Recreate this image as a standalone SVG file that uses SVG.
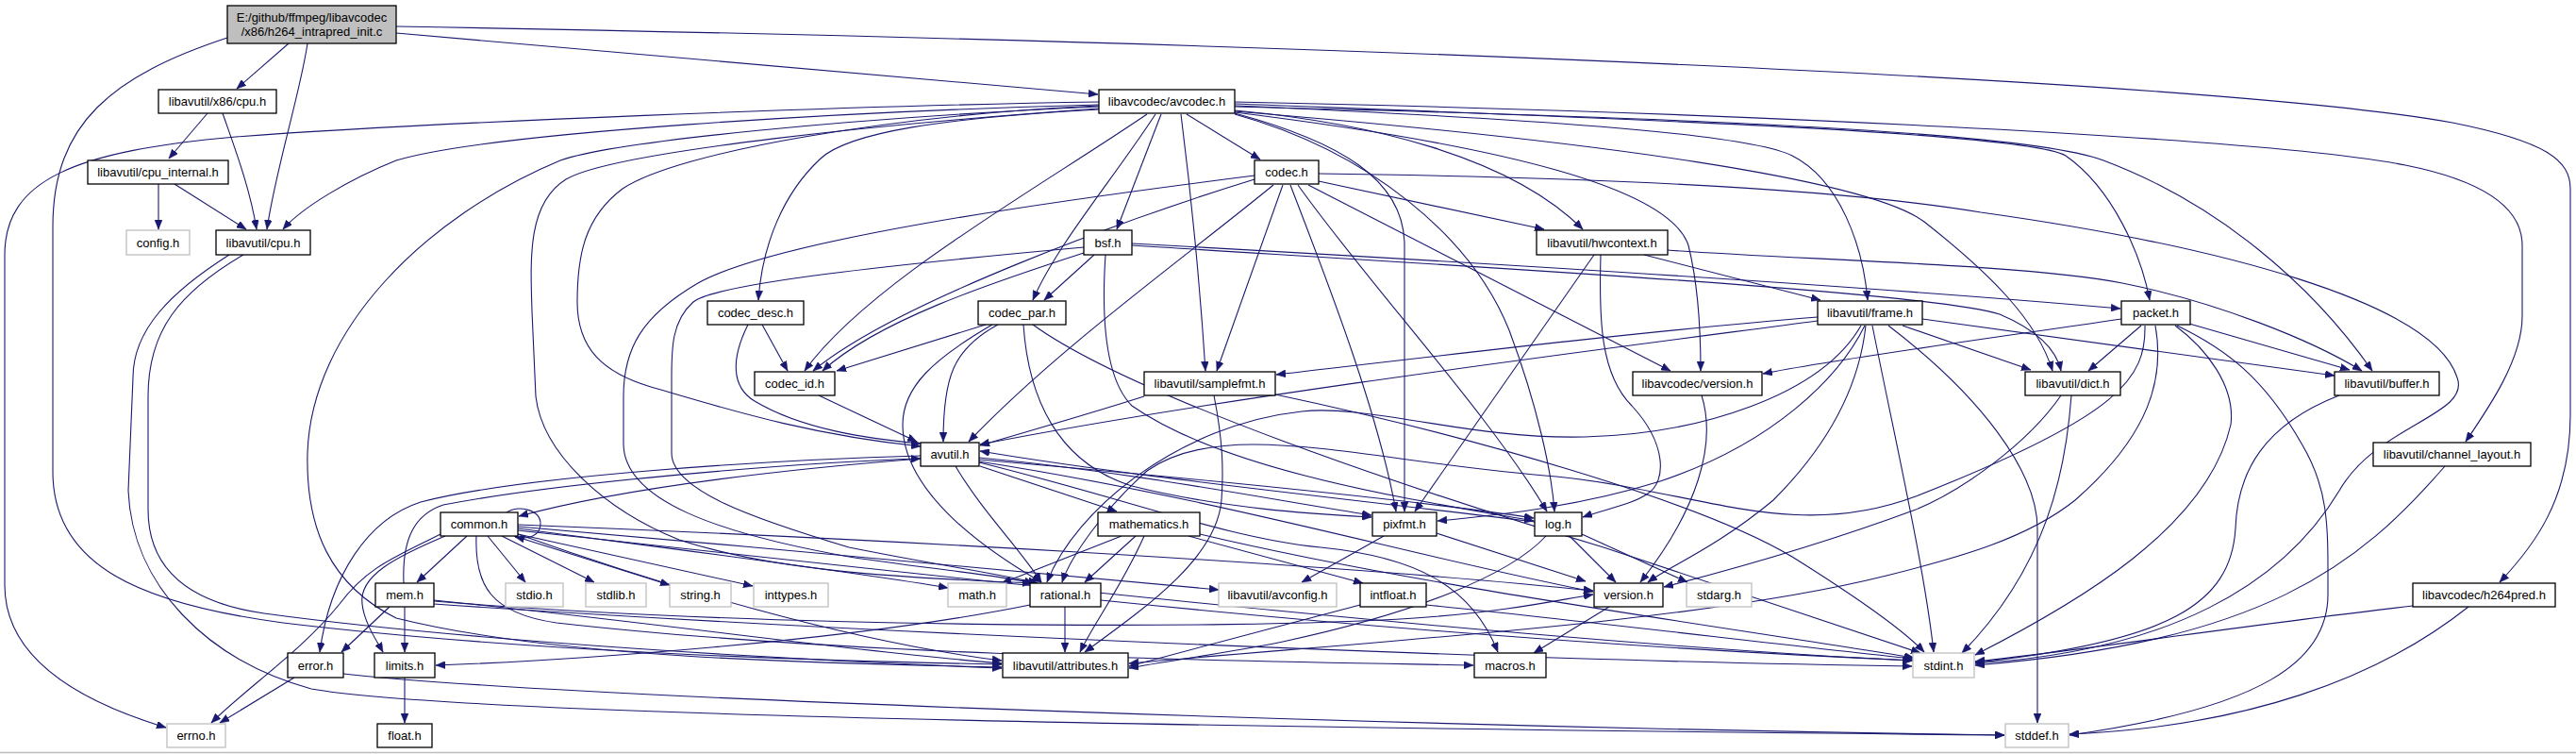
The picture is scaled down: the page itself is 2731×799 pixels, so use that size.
<svg xmlns="http://www.w3.org/2000/svg" width="2731" height="799" viewBox="0 0 2731 799">
<style>
.n rect{fill:#fff;stroke:#000;stroke-width:1.3}
.x rect{fill:#fff;stroke:#bfbfbf;stroke-width:1.3}
.m rect{fill:#bfbfbf;stroke:#000;stroke-width:1.3}
text{font-family:"Liberation Sans",Arial,sans-serif;font-size:13px;fill:#000;text-anchor:middle}
#edges path{fill:none;stroke:#191970;stroke-width:1.1;marker-end:url(#a)}
</style>
<defs>
<marker id="a" markerWidth="11" markerHeight="8" refX="10" refY="4" orient="auto" markerUnits="userSpaceOnUse"><path d="M0,0 L10,4 L0,8 z" fill="#191970" stroke="#191970" stroke-width="0.5"/></marker>
</defs>
<rect x="0" y="0" width="2731" height="799" fill="#fff"/>
<line x1="0" y1="797.5" x2="2731" y2="797.5" stroke="#bdbdbd" stroke-width="1.5"/>
<g id="edges">
<path d="M306,46 L251,94"/>
<path d="M326,46 C318,100 292,180 283,243"/>
<path d="M420,35 L1164,100"/>
<path d="M420,28 C1400,45 2350,85 2600,130 C2700,150 2725,170 2725,200 L2725,440 C2725,530 2685,580 2650,617"/>
<path d="M241,40 C120,80 56,130 56,240 L56,500 C56,600 150,640 300,660 C550,690 850,700 1062,704"/>
<path d="M220,120 L179,168"/>
<path d="M236,120 C250,160 265,200 272,243"/>
<path d="M168,195 L168,243"/>
<path d="M185,195 L261,243"/>
<path d="M243,270 C180,310 141,350 141,400 L136,520 C140,620 220,700 330,730 C500,760 1400,772 2125,779"/>
<path d="M258,270 C190,310 157,350 157,420 L157,540 C157,610 210,640 280,650 C500,680 850,700 1062,708"/>
<path d="M1165,108 C900,112 450,130 250,145 C80,160 5,190 5,270 L5,620 C5,700 90,745 176,771"/>
<path d="M1165,111 C900,118 520,140 420,170 C370,190 320,220 300,243"/>
<path d="M1165,113 C900,125 650,150 594,170 C450,230 330,350 326,480 C324,560 350,620 420,655 C600,700 900,703 1062,707"/>
<path d="M1165,115 C950,130 650,160 600,190 C560,215 562,270 564,330 L568,420 C575,480 640,540 720,572 C820,605 950,612 1094,618"/>
<path d="M1165,112 C950,122 720,160 660,200 C620,230 612,270 612,320 C612,370 640,395 690,410 C760,430 850,460 976,473"/>
<path d="M1165,116 C1000,125 900,140 870,168 C830,205 808,260 804,318"/>
<path d="M1216,121 C1100,200 920,300 853,393"/>
<path d="M1225,121 C1180,190 1120,260 1095,318"/>
<path d="M1231,121 L1184,243"/>
<path d="M1252,121 C1262,200 1272,300 1278,393"/>
<path d="M1258,121 L1336,169"/>
<path d="M1309,117 C1450,130 1600,165 1678,243"/>
<path d="M1309,112 C1600,125 1850,140 1900,165 C1950,190 1975,260 1980,318"/>
<path d="M1309,110 C1700,125 2150,140 2190,165 C2240,200 2270,270 2279,318"/>
<path d="M1309,119 C1600,155 1770,200 1790,260 C1800,300 1803,350 1803,393"/>
<path d="M1309,118 C1700,150 1980,190 2040,235 C2110,290 2160,340 2176,393"/>
<path d="M1309,113 C1800,125 2150,140 2230,170 C2350,215 2450,300 2515,393"/>
<path d="M1309,108 C1800,118 2400,145 2550,175 C2650,195 2674,230 2674,260 L2674,335 C2674,380 2640,430 2614,468"/>
<path d="M1309,120 C1420,150 1489,190 1489,260 L1489,542"/>
<path d="M1309,121 C1450,160 1560,250 1600,350 C1630,430 1645,500 1648,542"/>
<path d="M1330,186 C1100,215 820,255 740,300 C680,335 661,370 661,420 L661,470 C661,530 760,565 900,590 C1000,605 1050,608 1096,618"/>
<path d="M1330,190 C1200,230 950,320 862,393"/>
<path d="M1350,196 C1260,270 1120,370 1027,468"/>
<path d="M1360,196 L1290,393"/>
<path d="M1368,196 C1400,280 1460,430 1480,542"/>
<path d="M1376,196 C1450,300 1580,440 1640,542"/>
<path d="M1387,196 L1771,393"/>
<path d="M1398,192 L1637,243"/>
<path d="M1398,184 C1700,188 1950,200 2100,225 C2350,260 2580,320 2605,400 C2620,440 2520,450 2480,520 C2420,620 2300,690 2094,703"/>
<path d="M1149,262 C950,280 760,300 735,320 C712,340 712,370 712,400 L712,480 C712,520 800,550 900,580 C1000,600 1060,608 1100,618"/>
<path d="M1149,268 C1050,300 930,340 872,393"/>
<path d="M1160,270 L1107,318"/>
<path d="M1172,270 C1168,330 1170,400 1200,430 C1300,500 1500,530 1626,552"/>
<path d="M1200,258 C1600,280 2000,305 2248,327"/>
<path d="M1200,260 C1600,285 2050,310 2120,333 C2160,350 2180,370 2185,393"/>
<path d="M1743,270 L1930,318"/>
<path d="M1697,270 C1695,340 1697,397 1730,430 C1767,470 1767,510 1747,523 C1730,535 1700,540 1678,548"/>
<path d="M1690,270 L1500,542"/>
<path d="M1768,265 C1900,275 2150,280 2250,300 C2350,320 2450,360 2504,393"/>
<path d="M808,344 L835,393"/>
<path d="M793,344 C775,380 775,410 800,425 C850,455 920,465 976,470"/>
<path d="M1045,344 L887,393"/>
<path d="M1058,344 C1010,370 1000,400 1000,468"/>
<path d="M1052,344 C990,380 957,410 957,450 C957,520 1040,580 1104,617"/>
<path d="M1085,344 C1090,420 1120,490 1200,515 C1300,540 1400,545 1454,548"/>
<path d="M1095,344 C1200,420 1500,520 1700,580 C1850,630 2000,680 2036,692"/>
<path d="M868,419 L972,468"/>
<path d="M1213,420 C1150,440 1080,460 1039,472"/>
<path d="M1287,419 C1297,470 1297,500 1295,530 C1290,590 1220,640 1150,691"/>
<path d="M1352,418 C1550,460 1800,530 1900,590 C1980,640 2020,670 2040,691"/>
<path d="M1927,340 C1700,370 1300,420 1039,471"/>
<path d="M1927,336 C1750,350 1500,380 1353,397"/>
<path d="M1977,345 C1950,400 1880,470 1760,510 C1680,535 1600,545 1524,552"/>
<path d="M1973,345 C1930,420 1800,460 1680,463 C1560,466 1450,428 1380,436 C1250,450 1140,540 1110,617"/>
<path d="M1978,345 C1970,420 1930,480 1880,530 C1820,580 1770,600 1747,617"/>
<path d="M1985,345 C2010,470 2040,600 2050,691"/>
<path d="M2002,345 C2100,420 2160,500 2160,560 L2160,766"/>
<path d="M2017,345 L2153,392"/>
<path d="M2038,338 C2200,360 2350,380 2475,398"/>
<path d="M2249,338 C2100,360 1950,380 1869,396"/>
<path d="M2270,345 L2214,393"/>
<path d="M2321,343 L2491,392"/>
<path d="M2274,345 C2275,400 2250,440 2031,526 C1900,575 1800,520 1650,505 C1450,490 1300,440 1216,499 C1170,540 1135,590 1126,617"/>
<path d="M2285,345 C2295,400 2280,460 2200,530 C2150,570 2080,590 2000,610 C1800,660 1450,680 1197,703"/>
<path d="M2306,345 C2340,370 2370,410 2365,450 C2340,560 2200,640 2094,694"/>
<path d="M2308,345 C2360,370 2400,400 2440,470 C2470,520 2468,560 2468,630 C2468,700 2400,750 2194,779"/>
<path d="M2185,419 C2150,470 2080,520 2031,540 C1950,570 1850,600 1764,622"/>
<path d="M2196,419 C2190,500 2170,600 2080,692"/>
<path d="M2480,419 C2400,450 2372,500 2370,560 C2365,640 2300,680 2094,702"/>
<path d="M2592,494 C2500,600 2400,680 2094,705"/>
<path d="M2558,642 C2400,660 2200,690 2094,701"/>
<path d="M2617,643 C2520,720 2380,770 2194,778"/>
<path d="M976,486 C800,500 650,520 550,547"/>
<path d="M976,483 C800,488 550,505 446,532 C390,550 350,610 339,691"/>
<path d="M1013,494 C1040,540 1080,580 1104,617"/>
<path d="M1039,494 L1184,542"/>
<path d="M1038,487 C1300,510 1500,530 1626,549"/>
<path d="M1038,485 C1200,500 1350,530 1454,546"/>
<path d="M1038,489 C1300,530 1500,590 1689,627"/>
<path d="M1038,490 C1200,530 1300,570 1400,580 C1500,590 1560,620 1588,691"/>
<path d="M1627,553 C1400,525 1200,505 1039,478"/>
<path d="M1664,568 L1713,617"/>
<path d="M1677,566 L1789,617"/>
<path d="M1639,568 C1600,610 1500,650 1360,680 C1300,692 1240,700 1197,708"/>
<path d="M1467,568 L1380,617"/>
<path d="M1523,565 L1681,616"/>
<path d="M1189,568 L1062,618"/>
<path d="M1204,568 L1150,617"/>
<path d="M1213,568 C1190,620 1160,660 1145,691"/>
<path d="M1260,568 L1445,618"/>
<path d="M1272,566 C1500,620 1800,660 2029,697"/>
<path d="M1442,641 C1360,662 1260,690 1197,706"/>
<path d="M1512,641 C1700,660 1900,685 2029,698"/>
<path d="M1129,643 L1129,691"/>
<path d="M1092,641 C900,680 600,700 462,705"/>
<path d="M1167,636 C1500,670 1800,690 2028,700"/>
<path d="M1706,643 L1626,692"/>
<path d="M1804,419 C1820,470 1800,540 1739,617"/>
<path d="M537,543 C550,535 573,540 573,555 C573,568 560,572 546,569"/>
<path d="M495,568 L442,617"/>
<path d="M517,568 L557,617"/>
<path d="M532,568 L630,617"/>
<path d="M545,568 L710,620"/>
<path d="M549,566 L798,621"/>
<path d="M467,566 C420,590 390,600 360,640 C320,690 260,730 224,766"/>
<path d="M472,568 C420,590 380,610 384,640 C386,660 400,680 406,691"/>
<path d="M549,560 C700,580 900,605 1005,623"/>
<path d="M549,558 C800,580 1100,606 1292,625"/>
<path d="M549,556 C900,570 1400,596 1689,626"/>
<path d="M505,568 C503,620 520,650 590,660 C900,695 1300,700 1562,705"/>
<path d="M549,562 C900,600 1600,680 2027,700"/>
<path d="M549,566 C700,620 900,680 1062,700"/>
<path d="M428,618 C426,570 440,545 470,535 C600,510 850,490 976,486"/>
<path d="M429,643 L429,691"/>
<path d="M413,643 L362,691"/>
<path d="M460,636 C700,660 900,690 1062,703"/>
<path d="M460,640 C900,670 1600,700 2027,706"/>
<path d="M460,637 C800,665 1300,668 1500,655 C1600,648 1650,636 1689,630"/>
<path d="M312,718 L233,766"/>
<path d="M364,714 C600,740 1500,770 2125,779"/>
<path d="M429,718 L429,766"/>
</g>
<g id="main" class="m"><rect x="241" y="6" width="179" height="40"/><text x="330.5" y="22.5">E:/github/ffmpeg/libavcodec</text><text x="330.5" y="37.5">/x86/h264_intrapred_init.c</text></g>
<g id="x86cpu" class="n"><rect x="168" y="95" width="125" height="25"/><text x="230.5" y="112">libavutil/x86/cpu.h</text></g>
<g id="cpuinternal" class="n"><rect x="93" y="170" width="149" height="25"/><text x="167.5" y="187">libavutil/cpu_internal.h</text></g>
<g id="config" class="x"><rect x="134" y="244" width="67" height="26"/><text x="167.5" y="261.5">config.h</text></g>
<g id="cpu" class="n"><rect x="229" y="244" width="100" height="26"/><text x="279" y="261.5">libavutil/cpu.h</text></g>
<g id="avcodec" class="n"><rect x="1165" y="95" width="144" height="25"/><text x="1237" y="112">libavcodec/avcodec.h</text></g>
<g id="codec" class="n"><rect x="1330" y="170" width="68" height="25"/><text x="1364" y="187">codec.h</text></g>
<g id="bsf" class="n"><rect x="1149" y="244" width="51" height="26"/><text x="1174.5" y="261.5">bsf.h</text></g>
<g id="hwcontext" class="n"><rect x="1629" y="244" width="139" height="26"/><text x="1698.5" y="261.5">libavutil/hwcontext.h</text></g>
<g id="codec_desc" class="n"><rect x="750" y="319" width="102" height="25"/><text x="801" y="336">codec_desc.h</text></g>
<g id="codec_par" class="n"><rect x="1037" y="319" width="93" height="25"/><text x="1083.5" y="336">codec_par.h</text></g>
<g id="frame" class="n"><rect x="1927" y="319" width="111" height="25"/><text x="1982.5" y="336">libavutil/frame.h</text></g>
<g id="packet" class="n"><rect x="2249" y="319" width="73" height="25"/><text x="2285.5" y="336">packet.h</text></g>
<g id="codec_id" class="n"><rect x="800" y="394" width="85" height="25"/><text x="842.5" y="411">codec_id.h</text></g>
<g id="samplefmt" class="n"><rect x="1213" y="394" width="139" height="25"/><text x="1282.5" y="411">libavutil/samplefmt.h</text></g>
<g id="lavcversion" class="n"><rect x="1731" y="394" width="137" height="25"/><text x="1799.5" y="411">libavcodec/version.h</text></g>
<g id="dict" class="n"><rect x="2147" y="394" width="101" height="25"/><text x="2197.5" y="411">libavutil/dict.h</text></g>
<g id="buffer" class="n"><rect x="2475" y="394" width="111" height="25"/><text x="2530.5" y="411">libavutil/buffer.h</text></g>
<g id="avutil" class="n"><rect x="976" y="469" width="62" height="25"/><text x="1007" y="486">avutil.h</text></g>
<g id="channel_layout" class="n"><rect x="2516" y="469" width="167" height="25"/><text x="2599.5" y="486">libavutil/channel_layout.h</text></g>
<g id="common" class="n"><rect x="467" y="543" width="82" height="25"/><text x="508" y="560">common.h</text></g>
<g id="mathematics" class="n"><rect x="1164" y="543" width="108" height="25"/><text x="1218" y="560">mathematics.h</text></g>
<g id="pixfmt" class="n"><rect x="1455" y="543" width="68" height="25"/><text x="1489" y="560">pixfmt.h</text></g>
<g id="log" class="n"><rect x="1627" y="543" width="50" height="25"/><text x="1652" y="560">log.h</text></g>
<g id="mem" class="n"><rect x="398" y="618" width="62" height="25"/><text x="429" y="635">mem.h</text></g>
<g id="stdio" class="x"><rect x="536" y="618" width="61" height="25"/><text x="566.5" y="635">stdio.h</text></g>
<g id="stdlib" class="x"><rect x="621" y="618" width="64" height="25"/><text x="653" y="635">stdlib.h</text></g>
<g id="string" class="x"><rect x="710" y="618" width="65" height="25"/><text x="742.5" y="635">string.h</text></g>
<g id="inttypes" class="x"><rect x="799" y="618" width="79" height="25"/><text x="838.5" y="635">inttypes.h</text></g>
<g id="math" class="x"><rect x="1005" y="618" width="62" height="25"/><text x="1036" y="635">math.h</text></g>
<g id="rational" class="n"><rect x="1092" y="618" width="75" height="25"/><text x="1129.5" y="635">rational.h</text></g>
<g id="avconfig" class="x"><rect x="1292" y="618" width="125" height="25"/><text x="1354.5" y="635">libavutil/avconfig.h</text></g>
<g id="intfloat" class="n"><rect x="1442" y="618" width="70" height="25"/><text x="1477" y="635">intfloat.h</text></g>
<g id="version" class="n"><rect x="1690" y="618" width="73" height="25"/><text x="1726.5" y="635">version.h</text></g>
<g id="stdarg" class="x"><rect x="1788" y="618" width="69" height="25"/><text x="1822.5" y="635">stdarg.h</text></g>
<g id="h264pred" class="n"><rect x="2558" y="618" width="151" height="25"/><text x="2633.5" y="635">libavcodec/h264pred.h</text></g>
<g id="error" class="n"><rect x="305" y="692" width="59" height="26"/><text x="334.5" y="709.5">error.h</text></g>
<g id="limits" class="n"><rect x="397" y="692" width="64" height="26"/><text x="429" y="709.5">limits.h</text></g>
<g id="attributes" class="n"><rect x="1063" y="692" width="133" height="26"/><text x="1129.5" y="709.5">libavutil/attributes.h</text></g>
<g id="macros" class="n"><rect x="1563" y="692" width="76" height="26"/><text x="1601" y="709.5">macros.h</text></g>
<g id="stdint" class="x"><rect x="2028" y="692" width="65" height="26"/><text x="2060.5" y="709.5">stdint.h</text></g>
<g id="errno" class="x"><rect x="177" y="767" width="62" height="25"/><text x="208" y="784">errno.h</text></g>
<g id="float" class="n"><rect x="400" y="767" width="58" height="25"/><text x="429" y="784">float.h</text></g>
<g id="stddef" class="x"><rect x="2126" y="767" width="67" height="25"/><text x="2159.5" y="784">stddef.h</text></g>
</svg>
